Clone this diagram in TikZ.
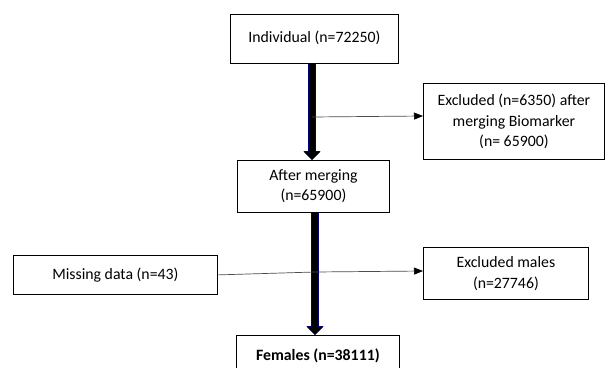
\documentclass[tikz,border=0pt]{standalone}
\usepackage{fontspec}
\setmainfont{Carlito}
\usetikzlibrary{arrows.meta,calc}
\begin{document}
\begin{tikzpicture}[x=1pt,y=-1pt,
  box/.style={draw=black, line width=0.8pt, fill=white, align=center, inner sep=2pt,
    font=\fontsize{15.8}{20.5}\selectfont},
  bigarrow/.style={draw=black, line width=6.5pt, -{Triangle[width=15pt,length=8pt]},
    preaction={draw=blue!45!black, line width=8pt, -{Triangle[width=16.5pt,length=8.8pt]}}},
  thinarrow/.style={draw=black!70, line width=0.7pt, -{Triangle[width=7pt,length=9pt,color=black]}},
  thinline/.style={draw=black!70, line width=0.7pt}]
\useasboundingbox (0,0) rectangle (605,367);
\clip (0,0) rectangle (605,367);
\fill[white] (0,0) rectangle (605,367);
\node[box, minimum width=168pt, minimum height=49pt, anchor=north west] (ind) at (230,14) {\raisebox{5pt}{Individual (n=72250)}};
\node[box, minimum width=152pt, minimum height=52pt, anchor=north west] (aft) at (237,160) {After merging\\(n=65900)};
\node[box, minimum width=181pt, minimum height=76pt, anchor=north west] (exc) at (423,83) {Excluded (n=6350) after\\merging Biomarker\\(n= 65900)};
\node[box, minimum width=204pt, minimum height=39pt, anchor=north west] (mis) at (13,255) {Missing data (n=43)};
\node[box, minimum width=165pt, minimum height=52pt, anchor=north west] (mal) at (423,247) {Excluded males\\(n=27746)};
\node[box, minimum width=163pt, minimum height=40pt, anchor=north west] (fem) at (236,335) {\raisebox{2pt}{\textbf{Females (n=38111)}}};
\coordinate (j1) at (312,117);
\coordinate (j2) at (315,272);
\draw[bigarrow] (312,63) -- (312,160);
\draw[bigarrow] (315,212) -- (315,335);
\draw[thinarrow] (j1) -- (423,116);
\draw[thinline] (mis.east) -- (j2);
\draw[thinarrow] (j2) -- (423,271);
\end{tikzpicture}
\end{document}
